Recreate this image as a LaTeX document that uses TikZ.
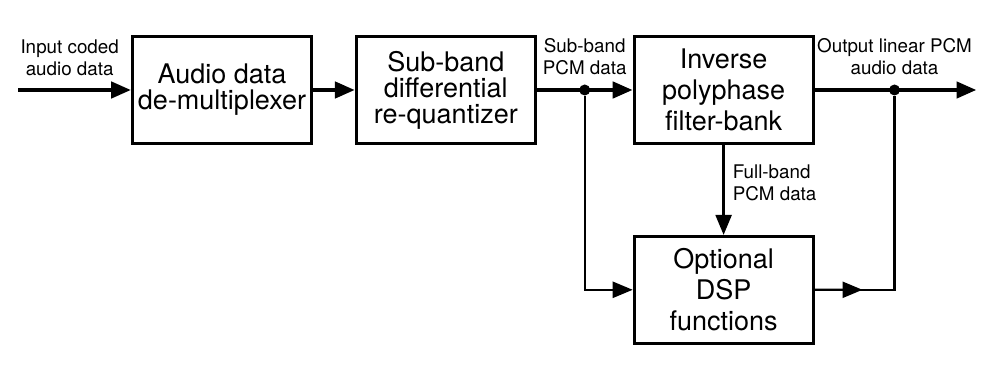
\documentclass[tikz,border=0pt]{standalone}
\usepackage{fontspec}
\setmainfont{TeX Gyre Heros}
\usetikzlibrary{positioning,arrows.meta,calc}

\begin{document}
\begin{tikzpicture}[
    x=1pt, y=1pt,
    node distance=21pt,
    box/.style={rectangle, draw, line width=1.4pt, minimum width=89.5pt, minimum height=53.5pt, inner sep=1pt, align=center, font=\fontsize{13.5}{13}\selectfont},
    tallbox/.style={box, font=\fontsize{13.5}{15.5}\selectfont},
    lbl/.style={inner sep=1pt, align=center, font=\fontsize{9.4}{11}\selectfont},
    tip/.style={-{Triangle[length=10pt,width=8pt]}},
    bus/.style={line width=2.2pt, tip},
    tap/.style={line width=1.2pt},
    dot/.style={circle, fill, inner sep=0pt, minimum size=5.5pt}
]
\useasboundingbox (0,0) rectangle (500,-186.5);

% Blocks
\node[box] (demux) at (111,-45) {Audio data\\de-multiplexer};
\node[box, right=of demux] (requant) {Sub-band\\differential\\re-quantizer};
\node[tallbox, right=48pt of requant] (synth) {Inverse\\polyphase\\filter-bank};
\node[tallbox, below=45pt of synth] (dsp) {Optional\\DSP\\functions};

% Ends and junctions
\coordinate[left=56.5pt of demux.west] (input);
\node[dot] (sbdot) at ($(requant.east)+(24,0)$) {};
\node[dot] (outdot) at ($(synth.east)+(40,0)$) {};
\coordinate[right=81pt of synth.east] (output);

% Main path
\draw[bus] (input) -- (demux.west);
\draw[bus] (demux) -- (requant);
\draw[bus] (requant) -- (synth);
\draw[bus] (synth) -- (output);

% Branches
\draw[tap, tip] (synth) -- (dsp) node[lbl, right=3pt, pos=0.42, align=left] {Full-band\\PCM data};
\draw[tap, tip] (sbdot) |- (dsp.west);
\draw[tap] (dsp.east) -| (outdot);
\draw[tap, tip] (dsp.east) -- ($(dsp.east)!0.6!(outdot |- dsp.east)$);

% Labels
\node[lbl, above right=6pt and 0pt of input] {Input coded\\audio data};
\node[lbl, above=3.5pt of sbdot] {Sub-band\\PCM data};
\node[lbl, above=3.5pt of outdot] {Output linear PCM\\audio data};

\end{tikzpicture}
\end{document}
